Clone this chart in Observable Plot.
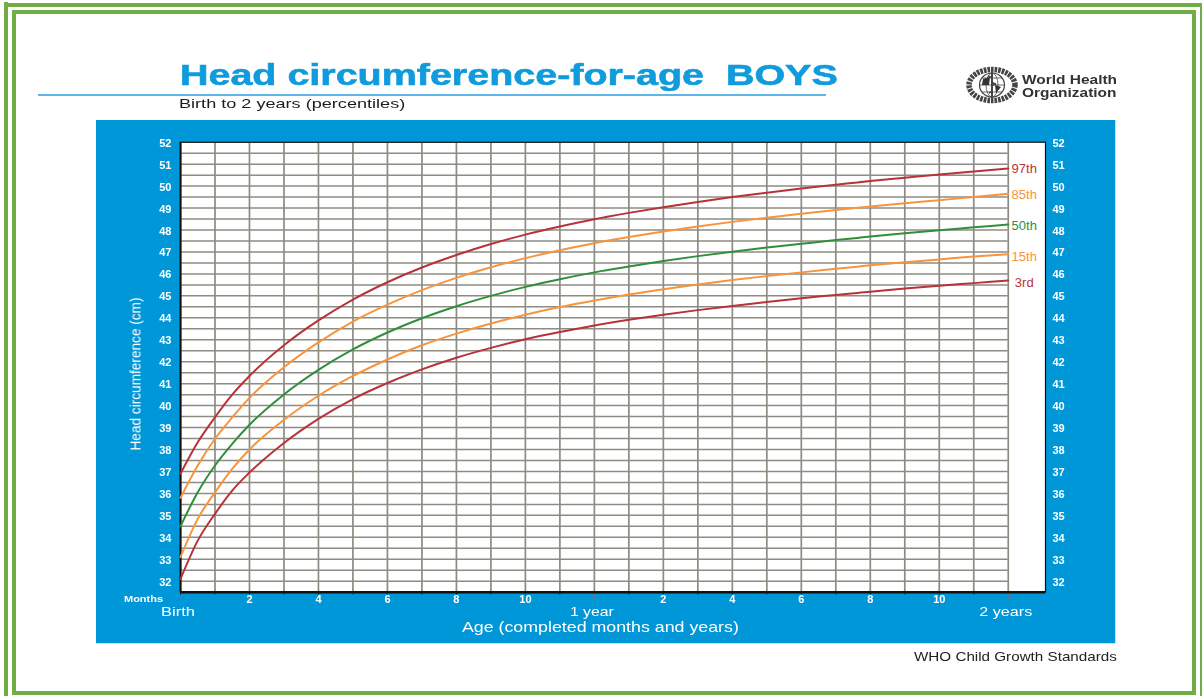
<!DOCTYPE html>
<html>
<head>
<meta charset="utf-8">
<script src="https://cdn.jsdelivr.net/npm/d3@7"></script>
<script src="https://cdn.jsdelivr.net/npm/@observablehq/plot@0.6"></script>
<style>
  html, body { margin: 0; padding: 0; background: #fff; }
  #page { position: relative; width: 1202px; height: 696px; overflow: hidden; font-family: "Liberation Sans", Arial, sans-serif; }
  .bar { position: absolute; background: #70ad47; }
  .t { position: absolute; white-space: pre; line-height: 1; transform-origin: left center; filter: blur(0.35px); }
  #panel { position: absolute; left: 96px; top: 120px; width: 1019px; height: 523px; background: #0097d9; box-shadow: 0.5px 0.5px 0 #7cc8ee; }
  #panel svg { position: absolute; left: 0; top: 0; background: transparent; overflow: visible; filter: blur(0.35px); }
  #page > svg { position: absolute; filter: blur(0.4px); }
</style>
</head>
<body>
<div id="page">
  <div class="bar" style="left:4px;top:3px;width:1198px;height:4px"></div>
  <div class="bar" style="left:4px;top:2px;width:4px;height:694px"></div>
  <div class="bar" style="left:1200px;top:3px;width:2px;height:693px"></div>
  <div class="bar" style="left:12px;top:10px;width:1184px;height:4px"></div>
  <div class="bar" style="left:12px;top:10px;width:4px;height:685px"></div>
  <div class="bar" style="left:1192px;top:10px;width:4px;height:685px"></div>
  <div class="bar" style="left:16px;top:691px;width:1180px;height:4px"></div>

  <div id="title" class="t" style="left:180px;top:60px;font-size:30px;font-weight:700;color:#0f9bdc;-webkit-text-stroke:0.6px #0f9bdc;transform:scaleX(1.315)">Head circumference-for-age  BOYS</div>
  <div style="position:absolute;left:38px;top:94px;width:788px;height:2px;background:#5fb6e6"></div>
  <div id="sub" class="t" style="left:179px;top:97px;font-size:13.5px;color:#1c1c1c;transform:scaleX(1.34)">Birth to 2 years (percentiles)</div>

  <svg style="left:964px;top:65px" width="56" height="40" viewBox="0 0 56 40">
    <g fill="none" stroke="#444">
      <ellipse cx="28" cy="20" rx="23" ry="15.5" stroke-width="5.5" stroke-dasharray="2.6 1"/>
      <ellipse cx="28" cy="20" rx="12.5" ry="12" stroke-width="1.2"/>
      <ellipse cx="28" cy="20" rx="6" ry="12" stroke-width="0.8"/>
      <path d="M15.5 20H40.5M18 13H38M18 27H38" stroke-width="0.8"/>
      <path d="M28 3V37" stroke-width="2"/>
      <path d="M24 11C33 13 23 17 32 19C23 21 33 25 25 28" stroke-width="1.6"/>
    </g>
    <path d="M19 14L26 12L25 20L18 20ZM31 20L37 22L32 28Z" fill="#333"/>
  </svg>
  <div id="who1" class="t" style="left:1022px;top:73px;font-size:13.5px;font-weight:700;color:#333;transform:scaleX(1.145)">World Health</div>
  <div id="who2" class="t" style="left:1022px;top:86px;font-size:13.5px;font-weight:700;color:#333;transform:scaleX(1.145)">Organization</div>

  <div id="panel"></div>
  <div id="src" class="t" style="left:914px;top:650px;font-size:13px;color:#222;transform:scaleX(1.17)">WHO Child Growth Standards</div>
</div>
<script>
const months = d3.range(0, 25);
const ages = [0,0.5,1,1.5,2,3,4,5,6,7,8,9,10,11,12,13,14,15,16,17,18,19,20,21,22,23,24];
const p3  = [32.1,33.85,35.07,36.13,36.95,38.3,39.4,40.3,41.03,41.65,42.18,42.63,43.02,43.35,43.65,43.91,44.14,44.35,44.54,44.72,44.89,45.04,45.19,45.33,45.46,45.58,45.7];
const p15 = [33.1,34.84,36.05,37.12,38.0,39.35,40.45,41.35,42.1,42.75,43.28,43.74,44.14,44.49,44.79,45.06,45.3,45.52,45.72,45.9,46.07,46.23,46.39,46.53,46.66,46.79,46.9];
const p50 = [34.5,36.05,37.27,38.26,39.13,40.51,41.63,42.56,43.33,43.98,44.53,45.0,45.41,45.76,46.07,46.34,46.59,46.81,47.01,47.2,47.37,47.54,47.7,47.85,47.99,48.12,48.25];
const p85 = [35.8,37.27,38.49,39.46,40.35,41.75,42.88,43.83,44.6,45.26,45.82,46.3,46.72,47.08,47.4,47.68,47.93,48.16,48.37,48.56,48.74,48.91,49.07,49.22,49.36,49.5,49.65];
const p97 = [36.9,38.33,39.47,40.5,41.35,42.75,43.88,44.83,45.62,46.29,46.86,47.36,47.79,48.16,48.49,48.78,49.04,49.28,49.5,49.7,49.89,50.06,50.23,50.38,50.53,50.67,50.8];

const seriesNames = ["3rd","15th","50th","85th","97th"];
const seriesValues = [p3, p15, p50, p85, p97];
const seriesColors = ["#b8323a","#f7943c","#2f8f3a","#f7943c","#b8323a"];
const labelY = [45.6, 46.78, 48.2, 49.6, 50.8];

const yTicks = d3.range(32, 53);
const yGrid = d3.range(31.5, 52.5, 0.5);
const monthLabels = {2:"2",4:"4",6:"6",8:"8",10:"10",14:"2",16:"4",18:"6",20:"8",22:"10"};
const yearLabels = [[0,"Birth"],[12,"1 year"],[24,"2 years"]];
const fittedText = {"Birth":34,"1 year":44,"2 years":53,"Age (completed months and years)":277,"Head circumference (cm)":153,"Months":39};

const table = seriesNames.flatMap((name, i) =>
  ages.map((m, j) => ({name, month: m, value: seriesValues[i][j], color: seriesColors[i]})));
const endLabels = seriesNames.map((name, i) => ({name, y: labelY[i], color: seriesColors[i]}));

const yMin = 31.5, yMax = 52;

const chart = Plot.plot({
  width: 1019, height: 523,
  marginLeft: 84, marginRight: 70, marginTop: 21.7, marginBottom: 51.3,
  style: {background: "transparent", fontFamily: "'Liberation Sans', Arial, sans-serif"},
  x: {domain: [0, 25.08], axis: null},
  y: {domain: [yMin, yMax], axis: null},
  marks: [
    Plot.frame({fill: "white", stroke: null}),
    Plot.ruleY(yGrid, {x1: 0, x2: 24, stroke: "#8c8c82", strokeWidth: 1.5}),
    Plot.ruleX(months, {y1: yMin, y2: yMax, stroke: "#8c8c82", strokeWidth: 1.7}),
    Plot.frame({stroke: "#111", strokeWidth: 1.2}),
    Plot.ruleX([0], {stroke: "#111", strokeWidth: 2}),
    Plot.axisX(months, {anchor: "bottom", tickSize: 3, stroke: "#333", tickFormat: () => null, label: null}),
    Plot.axisX([12, 24], {anchor: "bottom", tickSize: 8, stroke: "#777", tickFormat: () => null, label: null}),
    Plot.ruleY([yMin], {stroke: "#111", strokeWidth: 2.6}),
    Plot.line(table, {x: "month", y: "value", z: "name", stroke: "color", strokeWidth: 2, curve: "monotone-x"}),
    Plot.text(endLabels, {x: 24, y: "y", text: "name", fill: "color", dx: 16, fontSize: 13, textAnchor: "middle"}),
    Plot.axisY(yTicks, {anchor: "left", tickSize: 0, tickPadding: 9, dy: 1, label: null, fill: "white", fontSize: 11, fontWeight: 700, color: "white"}),
    Plot.axisY(yTicks, {anchor: "right", tickSize: 0, tickPadding: 7, dy: 1, label: null, fill: "white", fontSize: 11, fontWeight: 700, color: "white"}),
    Plot.text(Object.keys(monthLabels).map(Number), {x: d => d, y: () => yMin, text: d => monthLabels[d], dy: 7, fill: "white", fontSize: 11, fontWeight: 700}),
    Plot.text(yearLabels, {x: d => d[0], y: () => yMin, text: d => d[1], dx: -2.5, dy: 19.5, fill: "white", fontSize: 13.5, fontWeight: 500}),
    Plot.text(["Months"], {x: () => 0, y: () => yMin, text: d => d, dx: -37, dy: 7, fill: "white", fontSize: 9, fontWeight: 700}),
    Plot.text(["Age (completed months and years)"], {x: () => 12, y: () => yMin, text: d => d, dx: 6, dy: 35.5, fill: "white", fontSize: 14.5}),
    Plot.text(["Head circumference (cm)"], {x: () => 0, y: () => 41.44, text: d => d, rotate: -90, dx: -45, fill: "white", fontSize: 14.5})
  ]
});
chart.querySelectorAll("text").forEach(t => {
  const w = fittedText[t.textContent];
  if (w) { t.setAttribute("textLength", w); t.setAttribute("lengthAdjust", "spacingAndGlyphs"); }
});
document.getElementById("panel").appendChild(chart);
</script>
</body>
</html>
